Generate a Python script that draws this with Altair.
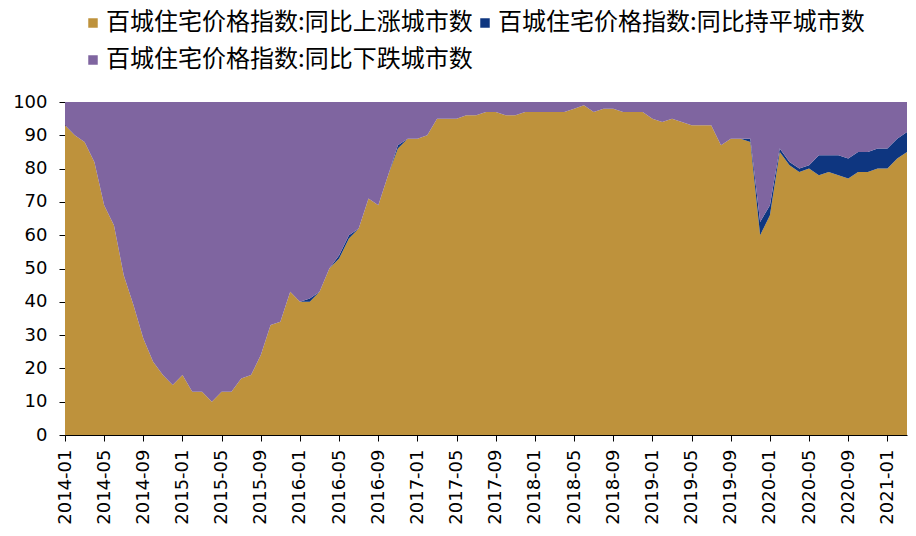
import altair as alt
import pandas as pd

# Monthly categories 2014-01 .. 2021-03
months = [f"{y}-{m:02d}" for y in range(2014, 2022) for m in range(1, 13)][:87]
tick_labels = months[::4]

series_names = [
    "百城住宅价格指数:同比上涨城市数",
    "百城住宅价格指数:同比持平城市数",
    "百城住宅价格指数:同比下跌城市数",
]
series_colors = ["#BE923C", "#0E3680", "#7F65A0"]

up = [93, 90, 88, 82, 69, 63, 48, 39, 29, 22,
      18, 15, 18, 13, 13, 10, 13, 13, 17, 18,
      24, 33, 34, 43, 40, 40, 43, 50, 53, 59,
      62, 71, 69, 78, 86, 89, 89, 90, 95, 95,
      95, 96, 96, 97, 97, 96, 96, 97, 97, 97,
      97, 97, 98, 99, 97, 98, 98, 97, 97, 97,
      95, 94, 95, 94, 93, 93, 93, 87, 89, 89,
      88, 60, 66, 85, 81, 79, 80, 78, 79, 78,
      77, 79, 79, 80, 80, 83, 85]
flat = [0, 0, 0, 0, 0, 0, 0, 0, 0, 0,
        0, 0, 0, 0, 0, 0, 0, 0, 0, 0,
        0, 0, 0, 0, 0, 1, 0, 0, 1, 1,
        0, 0, 0, 0, 1, 0, 0, 0, 0, 0,
        0, 0, 0, 0, 0, 0, 0, 0, 0, 0,
        0, 0, 0, 0, 0, 0, 0, 0, 0, 0,
        0, 0, 0, 0, 0, 0, 0, 0, 0, 0,
        1, 4, 3, 1, 1, 1, 1, 6, 5, 6,
        6, 6, 6, 6, 6, 6, 6]
down = [7, 10, 12, 18, 31, 37, 52, 61, 71, 78,
        82, 85, 82, 87, 87, 90, 87, 87, 83, 82,
        76, 67, 66, 57, 60, 59, 57, 50, 46, 40,
        38, 29, 31, 22, 13, 11, 11, 10, 5, 5,
        5, 4, 4, 3, 3, 4, 4, 3, 3, 3,
        3, 3, 2, 1, 3, 2, 2, 3, 3, 3,
        5, 6, 5, 6, 7, 7, 7, 13, 11, 11,
        11, 36, 31, 14, 18, 20, 19, 16, 16, 16,
        17, 15, 15, 14, 14, 11, 9]

rows = []
for k, (name, vals) in enumerate(zip(series_names, [up, flat, down])):
    for m, v in zip(months, vals):
        rows.append({"month": m, "series": name, "value": v, "k": k})
df = pd.DataFrame(rows)

# legend fills column-wise: up, down in column 1; flat in column 2
legend_order = [series_names[0], series_names[2], series_names[1]]
legend_colors = [series_colors[0], series_colors[2], series_colors[1]]

chart = alt.Chart(df).mark_area(interpolate="linear", opacity=1).encode(
    x=alt.X("month:O", title=None,
            scale=alt.Scale(type="point", padding=0),
            axis=alt.Axis(values=tick_labels, labelAngle=-90, tickSize=6,
                          labelPadding=8, labelFontSize=18, labelFont="DejaVu Sans",
                          labelColor="black", domainColor="black", tickColor="black",
                          grid=False, labelOverlap=False)),
    y=alt.Y("value:Q", stack="zero", title=None,
            scale=alt.Scale(domain=[0, 100], nice=False),
            axis=alt.Axis(values=list(range(0, 101, 10)), tickSize=6,
                          labelPadding=12, labelFontSize=18, labelFont="DejaVu Sans",
                          labelColor="black", domainColor="black", tickColor="black",
                          grid=False)),
    color=alt.Color("series:N",
                    scale=alt.Scale(domain=legend_order, range=legend_colors),
                    legend=alt.Legend(title=None, orient="none", legendX=16, legendY=-91,
                                      columns=2, symbolType="square", symbolSize=90,
                                      symbolStrokeWidth=0, symbolOpacity=1,
                                      labelFont="Noto Sans CJK SC", labelFontSize=24,
                                      labelColor="black", labelOffset=1, labelLimit=0,
                                      columnPadding=0, rowPadding=13, padding=0)),
    order=alt.Order("k:Q"),
).properties(
    width=842, height=333,
    autosize=alt.AutoSizeParams(type="none"),
    padding={"left": 57, "top": 94, "right": 1, "bottom": 100},
).configure_view(strokeWidth=0)

chart.save("out.html", embed_options={"renderer": "svg", "actions": False})
